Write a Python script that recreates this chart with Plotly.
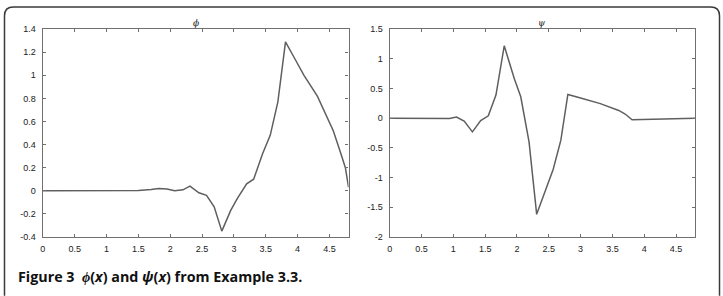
import plotly.graph_objects as go

W, H = 723, 296

phi_x = [0, 0.5, 0.75, 1.0, 1.3, 1.5, 1.7, 1.82, 1.95, 2.07, 2.2, 2.31, 2.45, 2.57, 2.69, 2.81,
         2.95, 3.05, 3.2, 3.31, 3.45, 3.57, 3.69, 3.81, 3.95, 4.1, 4.31, 4.45, 4.56, 4.68, 4.75, 4.8]
phi_y = [0, 0, 0.003, 0, -0.003, 0.002, 0.01, 0.02, 0.015, 0.0, 0.008, 0.04, -0.018, -0.04, -0.14, -0.35,
         -0.17, -0.07, 0.06, 0.1, 0.32, 0.48, 0.77, 1.29, 1.15, 1.0, 0.82, 0.65, 0.52, 0.32, 0.2, 0.03]

psi_x = [0, 0.5, 0.65, 0.94, 1.05, 1.17, 1.3, 1.43, 1.55, 1.67, 1.8, 1.96, 2.06, 2.19, 2.31, 2.45,
         2.57, 2.69, 2.8, 3.0, 3.31, 3.6, 3.7, 3.81, 4.2, 4.8]
psi_y = [0, 0, 0.005, -0.005, 0.02, -0.05, -0.23, -0.04, 0.04, 0.39, 1.22, 0.66, 0.36, -0.4, -1.62, -1.2,
         -0.86, -0.37, 0.40, 0.34, 0.245, 0.13, 0.07, -0.026, -0.02, 0]

x_ticks = [0, 0.5, 1, 1.5, 2, 2.5, 3, 3.5, 4, 4.5]
x_ticktext = ["0", "0.5", "1", "1.5", "2", "2.5", "3", "3.5", "4", "4.5"]
phi_ticks = [-0.4, -0.2, 0, 0.2, 0.4, 0.6, 0.8, 1.0, 1.2, 1.4]
phi_ticktext = ["-0.4", "-0.2", "0", "0.2", "0.4", "0.6", "0.8", "1", "1.2", "1.4"]
psi_ticks = [-2, -1.5, -1, -0.5, 0, 0.5, 1, 1.5]
psi_ticktext = ["-2", "-1.5", "-1", "-0.5", "0", "0.5", "1", "1.5"]

line_color = "#5f5f5f"
axis_color = "#707070"
tick_font = dict(family="Liberation Sans, Arial", size=9, color="#222222")

fig = go.Figure()
fig.add_trace(go.Scatter(x=phi_x, y=phi_y, mode="lines", line=dict(color=line_color, width=1.5),
                         xaxis="x", yaxis="y", showlegend=False))
fig.add_trace(go.Scatter(x=psi_x, y=psi_y, mode="lines", line=dict(color=line_color, width=1.5),
                         xaxis="x2", yaxis="y2", showlegend=False))

ydom = [1 - 240 / H, 1 - 25 / H]
common_ax = dict(showline=True, linecolor=axis_color, linewidth=1.3, mirror="ticks", ticks="inside",
                 ticklen=3, tickwidth=1, tickcolor=axis_color, showgrid=False, zeroline=False,
                 tickfont=tick_font)

fig.update_layout(
    width=W, height=H,
    margin=dict(l=0, r=0, t=0, b=0),
    paper_bgcolor="white", plot_bgcolor="white",
    xaxis=dict(domain=[40 / W, 347 / W], range=[0, 4.8], tickvals=x_ticks, ticktext=x_ticktext,
               anchor="y", ticklabelstandoff=3, **common_ax),
    yaxis=dict(domain=ydom, range=[-0.4, 1.4], tickvals=phi_ticks, ticktext=phi_ticktext,
               anchor="x", ticklabelstandoff=4, **common_ax),
    xaxis2=dict(domain=[388.3 / W, 695 / W], range=[0, 4.8], tickvals=x_ticks, ticktext=x_ticktext,
                anchor="y2", ticklabelstandoff=3, **common_ax),
    yaxis2=dict(domain=ydom, range=[-2, 1.5], tickvals=psi_ticks, ticktext=psi_ticktext,
                anchor="x2", ticklabelstandoff=4, **common_ax),
)

# subplot titles
fig.add_annotation(x=(40 + 347) / 2 / W, y=1 - 19 / H, xref="paper", yref="paper", text="<i>ϕ</i>",
                   showarrow=False, font=dict(family="DejaVu Serif", size=9, color="#222222"),
                   xanchor="center", yanchor="middle")
fig.add_annotation(x=(388.3 + 695) / 2 / W, y=1 - 19 / H, xref="paper", yref="paper", text="<i>ψ</i>",
                   showarrow=False, font=dict(family="DejaVu Serif", size=9, color="#222222"),
                   xanchor="center", yanchor="middle")

# caption
fig.add_annotation(x=13 / W, y=1 - 281 / H, xref="paper", yref="paper",
                   text="<b>Figure 3&nbsp;&nbsp;<i>ϕ</i>(<i>x</i>) and <i>ψ</i>(<i>x</i>) from Example 3.3.</b>",
                   showarrow=False, font=dict(family="Open Sans", size=14.3, color="#111111"),
                   xanchor="left", yanchor="middle")

# rounded frame (top corners rounded, sides run off the bottom)
x0, x1, y0, r = 1.5, 719.5, 2.0, 9.0
def px(x): return x / W
def py(y): return 1 - y / H
path = (f"M {px(x0)},{py(H + 5)} L {px(x0)},{py(y0 + r)} Q {px(x0)},{py(y0)} {px(x0 + r)},{py(y0)} "
        f"L {px(x1 - r)},{py(y0)} Q {px(x1)},{py(y0)} {px(x1)},{py(y0 + r)} L {px(x1)},{py(H + 5)}")
fig.add_shape(type="path", path=path, xref="paper", yref="paper",
              line=dict(color="#3a3a3a", width=1.5))

fig.write_html("out.html")
